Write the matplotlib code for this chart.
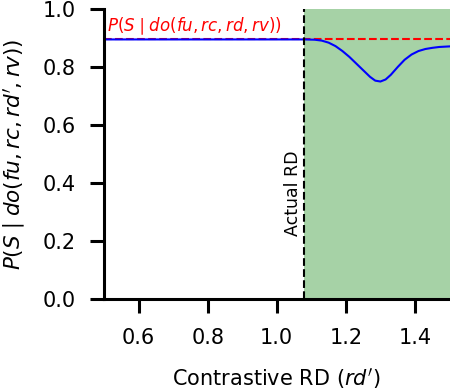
import numpy as np
import matplotlib
matplotlib.use("Agg")
import matplotlib.pyplot as plt

# values
rd_prime = [0.50, 1.08, 1.11, 1.13, 1.15, 1.17, 1.19, 1.21, 1.23, 1.25, 1.27, 1.285,
            1.30, 1.315, 1.33, 1.35, 1.37, 1.39, 1.41, 1.43, 1.45, 1.47, 1.50]
p_success = [0.895, 0.895, 0.894, 0.891, 0.884, 0.872, 0.855, 0.835, 0.812, 0.789, 0.766, 0.753,
             0.750, 0.757, 0.773, 0.800, 0.825, 0.843, 0.855, 0.862, 0.866, 0.869, 0.871]
p_do_actual = 0.895
actual_rd = 1.08
x_range = (0.5, 1.5)

fig, ax = plt.subplots(figsize=(4.5, 3.9), dpi=100)
fig.subplots_adjust(left=0.231, right=0.999, bottom=0.233, top=0.977)

ax.axvspan(actual_rd, x_range[1], color="green", alpha=0.35, lw=0)
ax.axhline(p_do_actual, color="red", ls="--", lw=1.5)
ax.plot(rd_prime, p_success, color="blue", lw=1.5)
ax.axvline(actual_rd, color="black", ls="--", lw=1.5)

ax.text(0.51, p_do_actual + 0.008, r"$P(S\mid do(fu,rc,rd,rv))$", color="red",
        fontsize=12, va="bottom", ha="left")
ax.text(actual_rd - 0.006, 0.366, "Actual RD", rotation=90, ha="right", va="center",
        fontsize=12.5)

ax.set_xlim(*x_range)
ax.set_ylim(0, 1)
ax.set_xticks([0.6, 0.8, 1.0, 1.2, 1.4])
ax.set_yticks([0.0, 0.2, 0.4, 0.6, 0.8, 1.0])
ax.set_xlabel(r"Contrastive RD ($rd^{\prime}$)", fontsize=15, labelpad=13)
ax.set_ylabel(r"$P(S\mid do(fu,rc,rd^{\prime},rv))$", fontsize=15.5, labelpad=11)

for side in ["top", "right"]:
    ax.spines[side].set_visible(False)
for side in ["left", "bottom"]:
    ax.spines[side].set_linewidth(2.2)
ax.tick_params(width=2.2, length=10, labelsize=15, pad=10.5)

fig.savefig("out.png")
